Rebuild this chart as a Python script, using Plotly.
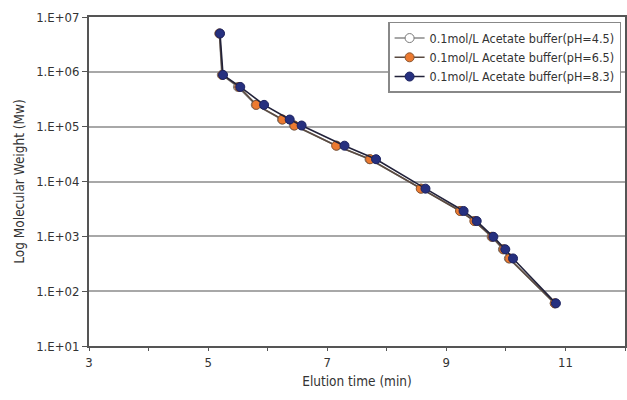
import plotly.graph_objects as go

# molecular weight standards (Mw) and elution times (min) per buffer pH
mw = [5.0e6, 8.8e5, 5.3e5, 2.5e5, 1.35e5, 1.05e5, 4.5e4, 2.55e4, 7.4e3, 2.9e3, 1.9e3, 980, 580, 395, 60]
t_ph45 = [5.19, 5.23, 5.50, 5.80, 6.24, 6.44, 7.16, 7.71, 8.58, 9.24, 9.48, 9.76, 9.95, 10.05, 10.82]
t_ph65 = [5.19, 5.24, 5.52, 5.81, 6.25, 6.45, 7.15, 7.72, 8.57, 9.23, 9.47, 9.77, 9.96, 10.06, 10.82]
t_ph83 = [5.20, 5.25, 5.54, 5.94, 6.37, 6.57, 7.29, 7.82, 8.65, 9.29, 9.51, 9.79, 9.99, 10.12, 10.84]

y_ticks = [1e1, 1e2, 1e3, 1e4, 1e5, 1e6, 1e7]
y_labels = ["1.E+01", "1.E+02", "1.E+03", "1.E+04", "1.E+05", "1.E+06", "1.E+07"]
x_ticks = [3, 4, 5, 6, 7, 8, 9, 10, 11, 12]
x_labels = ["3", "", "5", "", "7", "", "9", "", "11", ""]

font = "DejaVu Sans Condensed, Liberation Sans Narrow, Roboto, sans-serif"

fig = go.Figure()
series = [
    ("0.1mol/L Acetate buffer(pH=4.5)", t_ph45, "white", "#8a8a8a", "#7a7a7a"),
    ("0.1mol/L Acetate buffer(pH=6.5)", t_ph65, "#ec7a30", "#5a4a40", "#8a5530"),
    ("0.1mol/L Acetate buffer(pH=8.3)", t_ph83, "#26307f", "#22223a", "#1c2260"),
]
for name, t, fill, line_col, edge in series:
    fig.add_trace(go.Scatter(
        x=t, y=mw, name=name, mode="lines+markers",
        line=dict(color=line_col, width=1.6),
        marker=dict(size=9, color=fill, line=dict(color=edge, width=1)),
    ))

fig.update_layout(
    width=627, height=400,
    margin=dict(l=89, r=2, t=17, b=54),
    paper_bgcolor="white", plot_bgcolor="white",
    font=dict(family=font, size=13, color="#333"),
    legend=dict(
        x=0.558, y=0.985, xanchor="left", yanchor="top",
        bgcolor="white", bordercolor="#888", borderwidth=1.5,
        font=dict(size=12.5, color="#333"), tracegroupgap=0, itemwidth=30,
    ),
)
fig.update_xaxes(
    range=[3, 12], tickvals=x_ticks, ticktext=x_labels,
    ticks="outside", ticklen=3, tickcolor="#555",
    showgrid=False, zeroline=False, automargin=False,
    showline=True, linecolor="#555", linewidth=2, mirror=True,
    title=dict(text="Elution time (min)", font=dict(size=13.5), standoff=8),
)
fig.update_yaxes(
    type="log", range=[1, 7], tickvals=y_ticks, ticktext=y_labels,
    ticks="outside", ticklen=5, tickcolor="#555",
    showgrid=True, gridcolor="#a8a8a8", gridwidth=2, zeroline=False, automargin=False,
    showline=True, linecolor="#555", linewidth=2, mirror=True,
    title=dict(text="Log Molecular Weight (Mw)", font=dict(size=13.5), standoff=8),
)

# page body margin would shift the 627x400 figure inside the window
fig.write_html("out.html", config={"displayModeBar": False},
               post_script="document.body.style.margin='0';")
